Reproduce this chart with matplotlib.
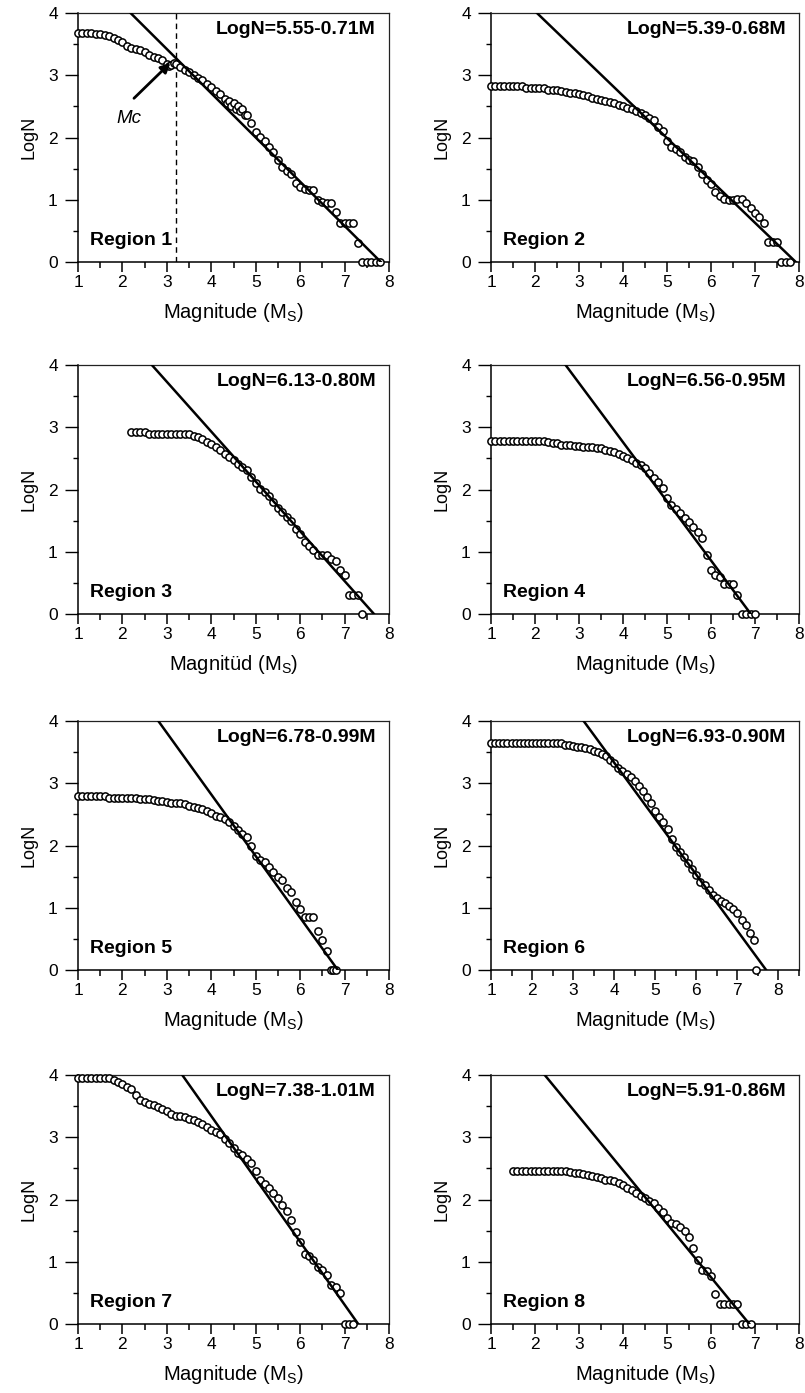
import numpy as np
import matplotlib.pyplot as plt
from matplotlib.ticker import MultipleLocator

plt.rcParams['font.family'] = ['Liberation Sans', 'DejaVu Sans']
plt.rcParams['mathtext.default'] = 'regular'

# cumulative frequency-magnitude data, one pair of lists per region
m1 = [1.0, 1.1, 1.2, 1.3, 1.4, 1.5, 1.6, 1.7, 1.8, 1.9, 2.0, 2.1, 2.2, 2.3, 2.4, 2.5,
      2.6, 2.7, 2.8, 2.9, 3.0, 3.05, 3.1, 3.15, 3.2, 3.3, 3.4, 3.5, 3.6, 3.7, 3.8, 3.9,
      4.0, 4.1, 4.2, 4.3, 4.35, 4.4, 4.45, 4.5, 4.55, 4.6, 4.65, 4.7, 4.75, 4.8, 4.9,
      5.0, 5.1, 5.2, 5.3, 5.4, 5.5, 5.6, 5.7, 5.8, 5.9, 6.0, 6.1, 6.2, 6.3, 6.4, 6.5,
      6.6, 6.7, 6.8, 6.9, 7.0, 7.1, 7.2, 7.3, 7.4, 7.5, 7.6, 7.7, 7.8]
n1 = [3.68, 3.68, 3.68, 3.68, 3.66, 3.66, 3.64, 3.63, 3.60, 3.57, 3.53, 3.47, 3.43, 3.42, 3.40, 3.37,
      3.33, 3.30, 3.27, 3.24, 3.18, 3.15, 3.17, 3.20, 3.18, 3.13, 3.08, 3.05, 3.00, 2.96, 2.92, 2.86,
      2.81, 2.75, 2.70, 2.62, 2.55, 2.58, 2.50, 2.55, 2.46, 2.50, 2.42, 2.45, 2.36, 2.36, 2.23,
      2.09, 2.01, 1.94, 1.85, 1.76, 1.64, 1.52, 1.46, 1.42, 1.27, 1.21, 1.18, 1.16, 1.15, 1.00, 0.97,
      0.95, 0.94, 0.80, 0.62, 0.62, 0.62, 0.62, 0.30, 0.0, 0.0, 0.0, 0.0, 0.0]

m2 = [1.0, 1.1, 1.2, 1.3, 1.4, 1.5, 1.6, 1.7, 1.8, 1.9, 2.0, 2.1, 2.2, 2.3, 2.4, 2.5,
      2.6, 2.7, 2.8, 2.9, 3.0, 3.1, 3.2, 3.3, 3.4, 3.5, 3.6, 3.7, 3.8, 3.9, 4.0, 4.1,
      4.2, 4.3, 4.4, 4.5, 4.6, 4.7, 4.8, 4.9, 5.0, 5.1, 5.2, 5.3, 5.4, 5.5, 5.6, 5.7,
      5.8, 5.9, 6.0, 6.1, 6.2, 6.3, 6.4, 6.5, 6.6, 6.7, 6.8, 6.9, 7.0, 7.1, 7.2, 7.3,
      7.4, 7.5, 7.6, 7.7, 7.8]
n2 = [2.82, 2.82, 2.82, 2.82, 2.82, 2.82, 2.82, 2.82, 2.80, 2.80, 2.80, 2.79, 2.79, 2.77, 2.76, 2.76,
      2.74, 2.73, 2.72, 2.71, 2.70, 2.68, 2.66, 2.63, 2.62, 2.60, 2.58, 2.57, 2.55, 2.53, 2.50, 2.48,
      2.45, 2.42, 2.40, 2.36, 2.31, 2.28, 2.17, 2.10, 1.95, 1.85, 1.82, 1.76, 1.69, 1.64, 1.62, 1.52,
      1.42, 1.32, 1.25, 1.12, 1.06, 1.02, 1.00, 1.00, 1.01, 1.02, 0.95, 0.86, 0.78, 0.72, 0.62, 0.32,
      0.32, 0.32, 0.0, 0.0, 0.0]

m3 = [2.2, 2.3, 2.4, 2.5, 2.6, 2.7, 2.8, 2.9, 3.0, 3.1, 3.2, 3.3, 3.4, 3.5, 3.6, 3.7,
      3.8, 3.9, 4.0, 4.1, 4.2, 4.3, 4.4, 4.5, 4.6, 4.7, 4.8, 4.9, 5.0, 5.1, 5.2, 5.3,
      5.4, 5.5, 5.6, 5.7, 5.8, 5.9, 6.0, 6.1, 6.2, 6.3, 6.4, 6.5, 6.6, 6.7, 6.8, 6.9,
      7.0, 7.1, 7.2, 7.3, 7.4]
n3 = [2.92, 2.92, 2.92, 2.92, 2.89, 2.89, 2.89, 2.89, 2.89, 2.89, 2.89, 2.89, 2.89, 2.89, 2.86, 2.84,
      2.81, 2.77, 2.73, 2.68, 2.63, 2.57, 2.53, 2.48, 2.41, 2.36, 2.32, 2.20, 2.10, 2.01, 1.96, 1.90,
      1.80, 1.70, 1.64, 1.56, 1.50, 1.36, 1.29, 1.15, 1.10, 1.03, 0.95, 0.95, 0.95, 0.88, 0.85, 0.70,
      0.62, 0.30, 0.30, 0.30, 0.0]

m4 = [1.0, 1.1, 1.2, 1.3, 1.4, 1.5, 1.6, 1.7, 1.8, 1.9, 2.0, 2.1, 2.2, 2.3, 2.4, 2.5,
      2.6, 2.7, 2.8, 2.9, 3.0, 3.1, 3.2, 3.3, 3.4, 3.5, 3.6, 3.7, 3.8, 3.9, 4.0, 4.1,
      4.2, 4.3, 4.4, 4.5, 4.6, 4.7, 4.8, 4.9, 5.0, 5.1, 5.2, 5.3, 5.4, 5.5, 5.6, 5.7,
      5.8, 5.9, 6.0, 6.1, 6.2, 6.3, 6.4, 6.5, 6.6, 6.7, 6.8, 6.9, 7.0]
n4 = [2.78, 2.78, 2.78, 2.78, 2.78, 2.78, 2.78, 2.78, 2.78, 2.78, 2.78, 2.78, 2.78, 2.76, 2.75, 2.74,
      2.72, 2.72, 2.71, 2.70, 2.70, 2.69, 2.68, 2.68, 2.67, 2.66, 2.64, 2.62, 2.60, 2.57, 2.54, 2.50,
      2.47, 2.43, 2.39, 2.34, 2.27, 2.19, 2.12, 2.02, 1.86, 1.75, 1.68, 1.62, 1.55, 1.47, 1.40, 1.32,
      1.22, 0.95, 0.71, 0.63, 0.60, 0.48, 0.48, 0.48, 0.30, 0.0, 0.0, 0.0, 0.0]

m5 = [1.0, 1.1, 1.2, 1.3, 1.4, 1.5, 1.6, 1.7, 1.8, 1.9, 2.0, 2.1, 2.2, 2.3, 2.4, 2.5,
      2.6, 2.7, 2.8, 2.9, 3.0, 3.1, 3.2, 3.3, 3.4, 3.5, 3.6, 3.7, 3.8, 3.9, 4.0, 4.1,
      4.2, 4.3, 4.4, 4.5, 4.6, 4.7, 4.8, 4.9, 5.0, 5.1, 5.2, 5.3, 5.4, 5.5, 5.6, 5.7,
      5.8, 5.9, 6.0, 6.1, 6.2, 6.3, 6.4, 6.5, 6.6, 6.7, 6.75, 6.8]
n5 = [2.80, 2.80, 2.80, 2.80, 2.80, 2.80, 2.80, 2.77, 2.77, 2.77, 2.77, 2.77, 2.77, 2.77, 2.75, 2.74,
      2.74, 2.73, 2.71, 2.71, 2.70, 2.69, 2.69, 2.69, 2.66, 2.64, 2.62, 2.60, 2.58, 2.55, 2.52, 2.48,
      2.45, 2.42, 2.38, 2.32, 2.25, 2.19, 2.14, 2.00, 1.83, 1.76, 1.73, 1.66, 1.58, 1.50, 1.45, 1.32,
      1.25, 1.10, 0.98, 0.85, 0.85, 0.85, 0.62, 0.48, 0.30, 0.0, 0.0, 0.0]

m6 = [1.0, 1.1, 1.2, 1.3, 1.4, 1.5, 1.6, 1.7, 1.8, 1.9, 2.0, 2.1, 2.2, 2.3, 2.4, 2.5,
      2.6, 2.7, 2.8, 2.9, 3.0, 3.1, 3.2, 3.3, 3.4, 3.5, 3.6, 3.7, 3.8, 3.9, 4.0, 4.1,
      4.2, 4.3, 4.4, 4.5, 4.6, 4.7, 4.8, 4.9, 5.0, 5.1, 5.2, 5.3, 5.4, 5.5, 5.6, 5.7,
      5.8, 5.9, 6.0, 6.1, 6.2, 6.3, 6.4, 6.5, 6.6, 6.7, 6.8, 6.9, 7.0, 7.1, 7.2, 7.3,
      7.4, 7.45]
n6 = [3.64, 3.64, 3.64, 3.64, 3.64, 3.64, 3.64, 3.64, 3.64, 3.64, 3.64, 3.64, 3.64, 3.64, 3.64, 3.64,
      3.64, 3.64, 3.61, 3.61, 3.60, 3.58, 3.58, 3.57, 3.55, 3.52, 3.50, 3.47, 3.43, 3.38, 3.32, 3.25,
      3.20, 3.15, 3.10, 3.03, 2.95, 2.87, 2.78, 2.68, 2.56, 2.46, 2.38, 2.26, 2.10, 1.98, 1.90, 1.82,
      1.72, 1.63, 1.53, 1.42, 1.36, 1.28, 1.20, 1.15, 1.11, 1.08, 1.03, 0.98, 0.91, 0.80, 0.72, 0.60,
      0.48, 0.0]

m7 = [1.0, 1.1, 1.2, 1.3, 1.4, 1.5, 1.6, 1.7, 1.8, 1.9, 2.0, 2.1, 2.2, 2.3, 2.4, 2.5,
      2.6, 2.7, 2.8, 2.9, 3.0, 3.1, 3.2, 3.3, 3.4, 3.5, 3.6, 3.7, 3.8, 3.9, 4.0, 4.1,
      4.2, 4.3, 4.4, 4.5, 4.6, 4.7, 4.8, 4.9, 5.0, 5.1, 5.2, 5.3, 5.4, 5.5, 5.6, 5.7,
      5.8, 5.9, 6.0, 6.1, 6.2, 6.3, 6.4, 6.5, 6.6, 6.7, 6.8, 6.9, 7.0, 7.1, 7.2]
n7 = [3.95, 3.95, 3.95, 3.95, 3.95, 3.95, 3.95, 3.95, 3.92, 3.88, 3.85, 3.80, 3.77, 3.68, 3.60, 3.57,
      3.54, 3.52, 3.48, 3.45, 3.42, 3.37, 3.34, 3.34, 3.32, 3.30, 3.28, 3.25, 3.22, 3.17, 3.12, 3.08,
      3.05, 2.97, 2.90, 2.83, 2.75, 2.72, 2.65, 2.58, 2.45, 2.32, 2.25, 2.19, 2.10, 2.02, 1.91, 1.82,
      1.67, 1.47, 1.32, 1.13, 1.10, 1.03, 0.92, 0.86, 0.78, 0.62, 0.60, 0.49, 0.0, 0.0, 0.0]

m8 = [1.5, 1.6, 1.7, 1.8, 1.9, 2.0, 2.1, 2.2, 2.3, 2.4, 2.5, 2.6, 2.7, 2.8, 2.9, 3.0,
      3.1, 3.2, 3.3, 3.4, 3.5, 3.6, 3.7, 3.8, 3.9, 4.0, 4.1, 4.2, 4.3, 4.4, 4.5, 4.6,
      4.7, 4.8, 4.9, 5.0, 5.1, 5.2, 5.3, 5.4, 5.5, 5.6, 5.7, 5.8, 5.9, 6.0, 6.1, 6.2,
      6.3, 6.4, 6.5, 6.6, 6.7, 6.8, 6.9]
n8 = [2.46, 2.46, 2.46, 2.46, 2.46, 2.46, 2.46, 2.46, 2.46, 2.46, 2.46, 2.46, 2.46, 2.44, 2.43, 2.42,
      2.41, 2.39, 2.38, 2.36, 2.34, 2.32, 2.31, 2.29, 2.26, 2.23, 2.18, 2.15, 2.10, 2.06, 2.02, 1.98,
      1.94, 1.86, 1.80, 1.70, 1.62, 1.60, 1.56, 1.50, 1.40, 1.22, 1.03, 0.86, 0.85, 0.77, 0.48, 0.32,
      0.32, 0.32, 0.32, 0.32, 0.0, 0.0, 0.0]

mags = [m1, m2, m3, m4, m5, m6, m7, m8]
logn = [n1, n2, n3, n4, n5, n6, n7, n8]

# Gutenberg-Richter fits: LogN = a - bM
a_vals = [5.55, 5.39, 6.13, 6.56, 6.78, 6.93, 7.38, 5.91]
b_vals = [0.71, 0.68, 0.80, 0.95, 0.99, 0.90, 1.01, 0.86]
xmax_vals = [8, 8, 8, 8, 8, 8.5, 8, 8]
xlabels = ['Magnitude (M$_S$)', 'Magnitude (M$_S$)', 'Magnitüd (M$_S$)', 'Magnitude (M$_S$)',
           'Magnitude (M$_S$)', 'Magnitude (M$_S$)', 'Magnitude (M$_S$)', 'Magnitude (M$_S$)']
mc = 3.2

W, H = 805, 1393
fig = plt.figure(figsize=(W / 100, H / 100), dpi=100)
lefts = [78, 491]
widths = [311, 308]
tops = [13, 365, 721, 1075]
ah = 249

for i in range(8):
    row, col = divmod(i, 2)
    ax = fig.add_axes([lefts[col] / W, 1 - (tops[row] + ah) / H, widths[col] / W, ah / H])

    ax.plot(mags[i], logn[i], 'o', ms=5.2, mfc='white', mec='black', mew=1.1,
            zorder=3, clip_on=False)
    xx = np.array([1.0, xmax_vals[i]])
    ax.plot(xx, a_vals[i] - b_vals[i] * xx, color='black', lw=1.8, zorder=4)

    ax.set_xlim(1, xmax_vals[i])
    ax.set_ylim(0, 4)
    ax.xaxis.set_major_locator(MultipleLocator(1))
    ax.xaxis.set_minor_locator(MultipleLocator(0.5))
    ax.yaxis.set_major_locator(MultipleLocator(1))
    ax.yaxis.set_minor_locator(MultipleLocator(0.5))
    ax.tick_params(axis='x', which='major', direction='out', length=7.5, width=1.1,
                   pad=2, labelsize=12.5)
    ax.tick_params(axis='x', which='minor', direction='out', length=4.5, width=1.1)
    ax.tick_params(axis='y', which='major', direction='out', length=9.5, width=1.0,
                   pad=5, labelsize=12.5)
    ax.tick_params(axis='y', which='minor', direction='out', length=3.5, width=1.0)
    for side in ['left', 'bottom']:
        ax.spines[side].set_linewidth(1.1)
    for side in ['top', 'right']:
        ax.spines[side].set_linewidth(0.9)
        ax.spines[side].set_color('#222222')

    ax.set_xlabel(xlabels[i], fontsize=14.5, labelpad=8)
    ax.set_ylabel('LogN', fontsize=13, labelpad=8)

    ax.text(0.958, 0.935, 'LogN=%.2f-%.2fM' % (a_vals[i], b_vals[i]),
            transform=ax.transAxes, ha='right', va='center',
            fontsize=14, fontweight='bold')
    ax.text(0.04, 0.085, 'Region %d' % (i + 1), transform=ax.transAxes,
            ha='left', va='center', fontsize=14, fontweight='bold')

    if i == 0:
        ax.axvline(mc, color='black', lw=1.0, ls=(0, (4, 3)), zorder=2)
        ax.text(2.15, 2.31, 'Mc', fontsize=13.5, fontstyle='italic',
                ha='center', va='center')
        ax.annotate('', xy=(3.08, 3.2), xytext=(2.26, 2.63),
                    arrowprops=dict(arrowstyle='-|>', color='black', lw=2.0,
                                    mutation_scale=14, shrinkA=0, shrinkB=0),
                    zorder=5)

fig.savefig('out.png', dpi=100)
